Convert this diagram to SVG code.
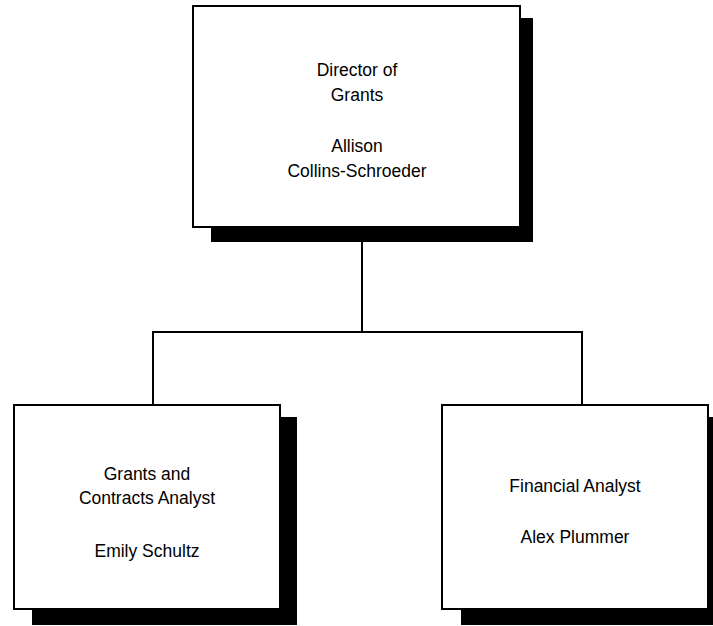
<svg xmlns="http://www.w3.org/2000/svg" width="713" height="626" viewBox="0 0 713 626">
<style>
.shadow{fill:#000}
.box{fill:#fff;stroke:#000;stroke-width:2}
.lbl{font-family:"Liberation Sans",Arial,sans-serif;font-size:17.5px;fill:#000;text-anchor:middle}
.conn{fill:none;stroke:#000;stroke-width:2}
</style>
<rect width="713" height="626" fill="#fff"/>
<g id="connectors">
<path class="conn" d="M362 227 V332"/>
<path class="conn" d="M153 405 V332 H582 V405"/>
</g>
<g id="director">
<rect class="shadow" x="211" y="18" width="322" height="224"/>
<rect class="box" x="193" y="6" width="327" height="221"/>
<text class="lbl" x="357" y="76">Director of</text>
<text class="lbl" x="357" y="101">Grants</text>
<text class="lbl" x="357" y="152">Allison</text>
<text class="lbl" x="357" y="177">Collins-Schroeder</text>
</g>
<g id="grants-analyst">
<rect class="shadow" x="32" y="417" width="265" height="208"/>
<rect class="box" x="14" y="405" width="266" height="204"/>
<text class="lbl" x="147" y="480">Grants and</text>
<text class="lbl" x="147" y="504">Contracts Analyst</text>
<text class="lbl" x="147" y="557">Emily Schultz</text>
</g>
<g id="financial-analyst">
<rect class="shadow" x="461" y="417" width="260" height="208"/>
<rect class="box" x="442" y="405" width="266" height="204"/>
<text class="lbl" x="575" y="492">Financial Analyst</text>
<text class="lbl" x="575" y="543">Alex Plummer</text>
</g>
</svg>
